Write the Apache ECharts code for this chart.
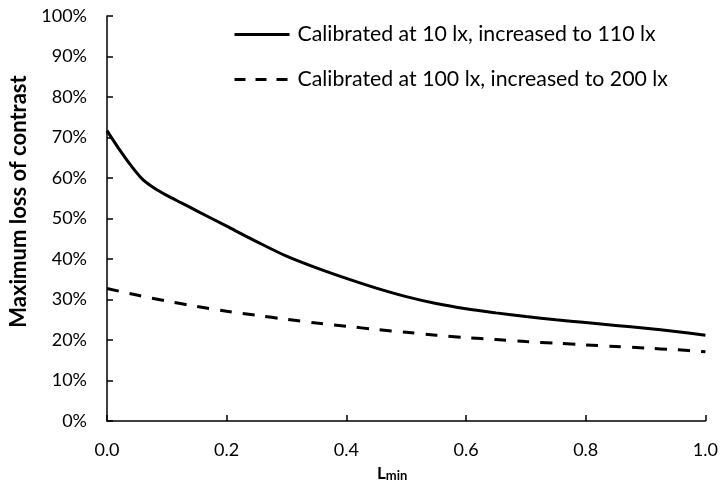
<!DOCTYPE html>
<html>
<head>
<meta charset="utf-8">
<script src="https://cdn.jsdelivr.net/npm/echarts@6/dist/echarts.min.js"></script>
<style>html,body{margin:0;padding:0;background:#fff}#c{width:721px;height:489px}</style>
</head>
<body>
<div id="c"></div>
<script>
var xValues = [0, 0.02, 0.04, 0.06, 0.08, 0.1, 0.125, 0.15, 0.2, 0.25, 0.3, 0.35, 0.4, 0.45, 0.5, 0.55, 0.6, 0.65, 0.7, 0.75, 0.8, 0.85, 0.9, 0.95, 1.0];
var solid10lx = [71.7, 67.2, 63.1, 59.6, 57.4, 55.7, 53.8, 51.9, 48.1, 44.3, 40.7, 37.8, 35.2, 32.8, 30.7, 29.0, 27.7, 26.7, 25.8, 25.0, 24.3, 23.6, 22.9, 22.1, 21.2];
var xValuesDashed = [0, 0.05, 0.1, 0.15, 0.2, 0.25, 0.3, 0.35, 0.4, 0.45, 0.5, 0.55, 0.6, 0.65, 0.7, 0.75, 0.8, 0.85, 0.9, 0.95, 1.0];
var dashed100lx = [32.7, 31.1, 29.6, 28.3, 27.1, 26.1, 25.1, 24.2, 23.4, 22.6, 21.9, 21.2, 20.6, 20.1, 19.6, 19.2, 18.8, 18.4, 18.0, 17.6, 17.1];
var seriesNames = ['Calibrated at 10 lx, increased to 110 lx', 'Calibrated at 100 lx, increased to 200 lx'];

function pairs(xs, ys) { return xs.map(function (x, i) { return [x, ys[i]]; }); }

var font = 'Lato';
var chart = echarts.init(document.getElementById('c'), null, {renderer: 'canvas'});
chart.setOption({
  animation: false,
  backgroundColor: '#fff',
  textStyle: {fontFamily: font, color: '#000'},
  grid: {left: 107, right: 15, top: 16, bottom: 68, containLabel: false},
  legend: {
    orient: 'vertical',
    left: 233,
    top: 24,
    padding: 0,
    itemWidth: 55,
    itemHeight: 14,
    itemGap: 24,
    itemStyle: {opacity: 0},
    textStyle: {fontFamily: font, fontSize: 21.3, color: '#000', padding: [0, 0, 0, 3]},
    data: [
      {name: seriesNames[0], lineStyle: {width: 3, type: 'solid', color: '#000'}},
      {name: seriesNames[1], lineStyle: {width: 3, type: [11, 10], color: '#000'}}
    ]
  },
  xAxis: {
    type: 'value', min: 0, max: 1, interval: 0.2,
    name: '{l|L}{s|min}', nameLocation: 'middle', nameGap: 40,
    nameTextStyle: {padding: [0, 28, 0, 0], rich: {
      l: {fontFamily: font, fontSize: 17, fontWeight: 'bold', color: '#000', verticalAlign: 'bottom'},
      s: {fontFamily: font, fontSize: 13, fontWeight: 'bold', color: '#000', verticalAlign: 'top', padding: [8, 0, 0, 0]}
    }},
    axisLine: {lineStyle: {color: '#000', width: 1.5}},
    axisTick: {inside: true, length: 6, lineStyle: {color: '#000', width: 1.5}},
    axisLabel: {fontFamily: font, fontSize: 18, color: '#000', margin: 20, formatter: function (v) { return v.toFixed(1); }},
    splitLine: {show: false}
  },
  yAxis: {
    type: 'value', min: 0, max: 100, interval: 10,
    name: 'Maximum loss of contrast', nameLocation: 'middle', nameGap: 76, nameRotate: 90,
    nameTextStyle: {fontFamily: font, fontSize: 22, fontWeight: 'bold', color: '#000', padding: [0, 0, 0, 34]},
    axisLine: {show: true, lineStyle: {color: '#000', width: 1.5}},
    axisTick: {show: true, inside: true, length: 6, lineStyle: {color: '#000', width: 1.5}},
    axisLabel: {fontFamily: font, fontSize: 18, color: '#000', margin: 20, formatter: '{value}%'},
    splitLine: {show: false}
  },
  series: [
    {name: seriesNames[0], type: 'line', smooth: 0.3, symbol: 'none', data: pairs(xValues, solid10lx),
     lineStyle: {color: '#000', width: 3}, itemStyle: {color: '#000'}},
    {name: seriesNames[1], type: 'line', smooth: 0.3, symbol: 'none', data: pairs(xValuesDashed, dashed100lx),
     lineStyle: {color: '#000', width: 3, type: [12, 11], cap: 'butt'}, itemStyle: {color: '#000'}}
  ]
});
</script>
</body>
</html>
